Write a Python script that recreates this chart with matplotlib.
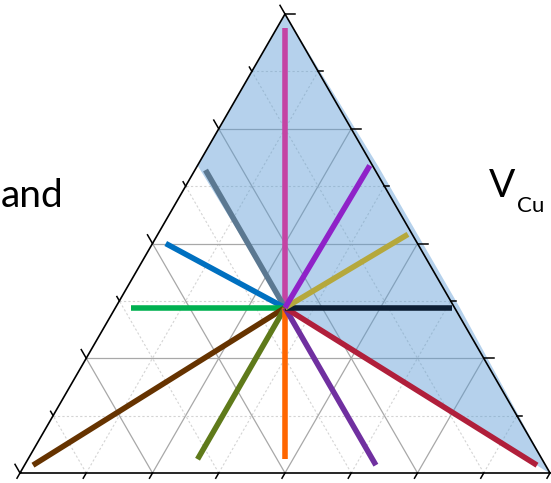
import numpy as np
import matplotlib
matplotlib.use("Agg")
import matplotlib.pyplot as plt

# compositions (top, right, left) for the centre and the ends of each ray
centre = (0.36, 0.32, 0.32)

noms = ["magenta", "slate", "bleu", "vert", "marron", "olive", "orange",
        "violet", "rouge", "marine", "kaki", "pourpre"]
haut = [0.97, 0.66, 0.50, 0.36, 0.017, 0.03, 0.03, 0.017, 0.017, 0.36, 0.52, 0.67]
droite = [0.015, 0.02, 0.025, 0.03, 0.016, 0.32, 0.485, 0.663, 0.967, 0.635, 0.472, 0.325]
gauche = [0.015, 0.32, 0.475, 0.61, 0.967, 0.65, 0.485, 0.32, 0.016, 0.005, 0.008, 0.005]
couleurs = ["#c443a3", "#5b7891", "#0070c0", "#00b050", "#663300", "#5f7a1a",
            "#ff6600", "#7030a0", "#b01f3b", "#0c1e33", "#b5a83c", "#8f22c8"]

# shaded domain (top, right, left)
zone_haut = [1.0, 0.67, 0.355, -0.004, 0.0, 0.36, 0.67]
zone_droite = [0.0, 0.0, 0.325, 1.006, 1.0, 0.65, 0.34]
zone_gauche = [0.0, 0.33, 0.32, -0.002, 0.0, -0.01, -0.01]

H = np.sqrt(3) / 2


def cart(t, r, l):
    # ternary -> cartesian, left vertex at (0,0), right at (1,0), top at (0.5, H)
    t = np.asarray(t, dtype=float)
    r = np.asarray(r, dtype=float)
    return r + 0.5 * t, t * H


fig = plt.figure(figsize=(5.51, 4.83), dpi=100)
ax = fig.add_axes([0, 0, 1, 1])
ax.set_xlim(-20 / 530, 531 / 530)
ax.set_ylim(-10 / 530, 473 / 530)
ax.axis("off")

# grid every 1/8, solid on the quarters
for k in range(1, 8):
    f = k / 8
    if k % 2 == 0:
        style = dict(color="#a8a8a8", lw=0.9, ls="-")
    else:
        style = dict(color="#d4d4d4", lw=0.8, ls=(0, (2, 2)))
    x, y = cart([f, f], [0, 1 - f], [1 - f, 0])
    ax.plot(x, y, zorder=1, **style)
    x, y = cart([0, 1 - f], [f, f], [1 - f, 0])
    ax.plot(x, y, zorder=1, **style)
    x, y = cart([0, 1 - f], [1 - f, 0], [f, f])
    ax.plot(x, y, zorder=1, **style)

# shaded region
zx, zy = cart(zone_haut, zone_droite, zone_gauche)
ax.fill(zx, zy, color="#5b9bd5", alpha=0.45, lw=0, zorder=2)

# triangle
tx, ty = cart([0, 0, 1, 0], [0, 1, 0, 0], [1, 0, 0, 1])
ax.plot(tx, ty, color="black", lw=1.2, zorder=3)

# ticks
for k in range(9):
    f = k / 8
    long = (10 if k % 2 == 0 else 5) / 530
    # right edge, horizontal
    x, y = cart(f, 1 - f, 0)
    ax.plot([x, x + long], [y, y], color="black", lw=1.1, zorder=3)
    # left edge, pointing up-left
    x, y = cart(f, 0, 1 - f)
    ax.plot([x, x - 0.5 * long], [y, y + H * long], color="black", lw=1.1, zorder=3)
    # bottom edge, pointing down-left
    x, y = cart(0, f, 1 - f)
    lb = 6 / 530
    ax.plot([x, x - 0.5 * lb], [y, y - H * lb], color="black", lw=1.1, zorder=3)

# rays from the centre
cx, cy = cart(*centre)
for i in range(len(noms)):
    ex, ey = cart(haut[i], droite[i], gauche[i])
    ax.plot([cx, ex], [cy, ey], color=couleurs[i], lw=4.0,
            solid_capstyle="butt", zorder=4)

fig.text(1 / 551, 1 - 207 / 483, "and", fontsize=28, family="Lato", va="baseline")
fig.text(489 / 551, 1 - 197 / 483, "V", fontsize=28, family="Lato", va="baseline")
fig.text(517 / 551, 1 - 212 / 483, "Cu", fontsize=16, family="Lato", va="baseline")

fig.savefig("out.png", dpi=100)
